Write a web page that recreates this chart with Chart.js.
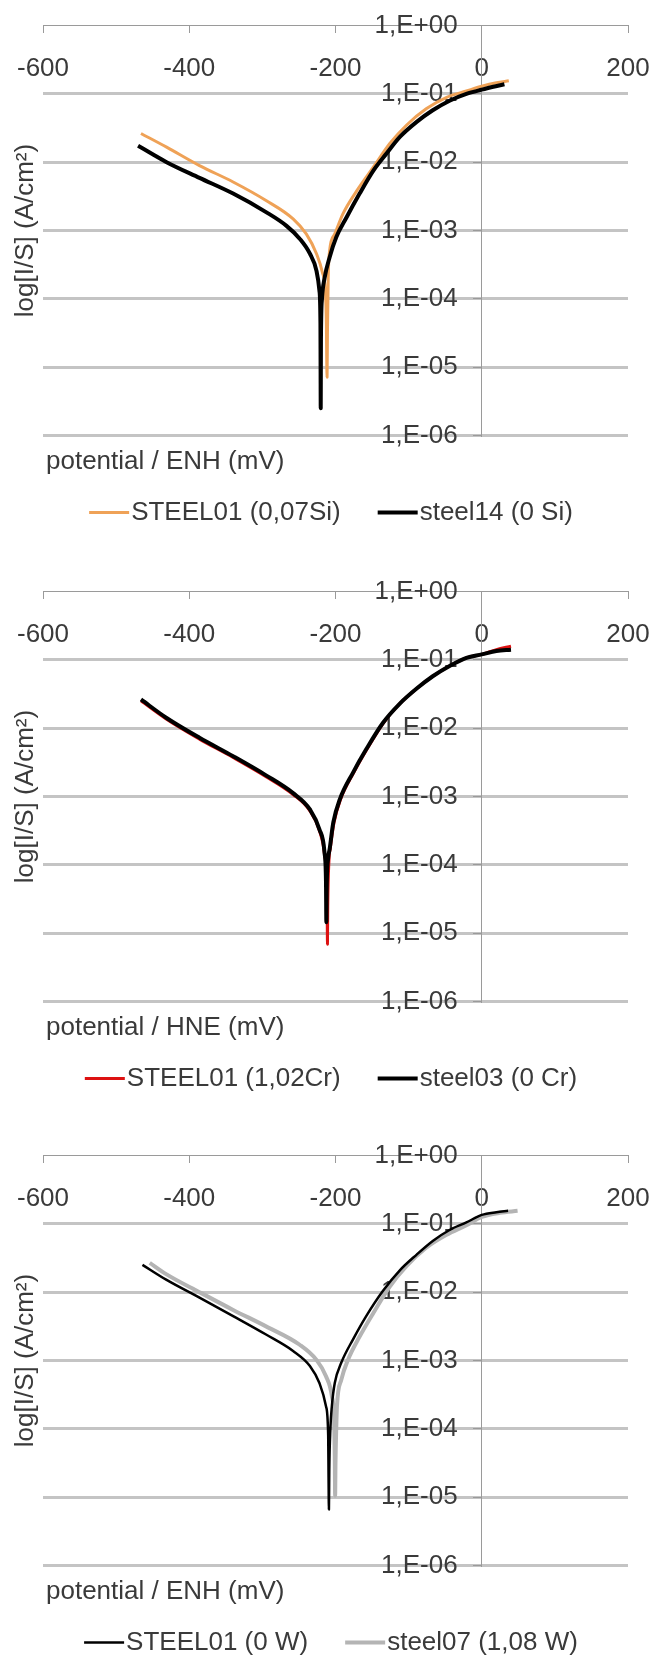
<!DOCTYPE html>
<html><head><meta charset="utf-8">
<script src="https://cdn.jsdelivr.net/npm/chart.js@4.4.1/dist/chart.umd.min.js"></script>
<style>
html,body{margin:0;padding:0;background:#fff;width:652px;height:1660px;overflow:hidden;position:relative;}
canvas{position:absolute;left:0;}
</style></head><body>
<canvas id="c1" width="652" height="566" style="top:0px"></canvas>
<canvas id="c2" width="652" height="566" style="top:566px"></canvas>
<canvas id="c3" width="652" height="566" style="top:1130px"></canvas>
<script>
// ---- tick labels / titles ----
const xTickValues = [-600, -400, -200, 0, 200];
const xTickLabels = ['-600', '-400', '-200', '0', '200'];
const yTickValues = [1e-6, 1e-5, 1e-4, 1e-3, 1e-2, 1e-1, 1];
const yTickLabels = ['1,E-06', '1,E-05', '1,E-04', '1,E-03', '1,E-02', '1,E-01', '1,E+00'];
const yTitle = 'log[I/S] (A/cm²)';
const xTitles = ['potential / ENH (mV)', 'potential / HNE (mV)', 'potential / ENH (mV)'];

// ---- chart 1 : Si ----
const names1 = ['STEEL01 (0,07Si)', 'steel14 (0 Si)'];
const pot1a = [-466,-431,-386,-340,-295,-258,-240,-226,-218,-214,-212.5,-212,-211.5,-211,-210,-208,-201,-190,-171,-148,-126,-103,-76,-48,-21,0,20,37];
const cur1a = [2.63e-2,1.66e-2,8.91e-3,5.13e-3,2.75e-3,1.48e-3,8.91e-4,4.57e-4,2.45e-4,1.32e-4,4.4e-5,1.26e-5,7.1e-6,3.2e-5,2.0e-4,5.13e-4,8.91e-4,1.74e-3,3.80e-3,8.51e-3,1.86e-2,3.47e-2,6.03e-2,8.91e-2,1.10e-1,1.29e-1,1.45e-1,1.55e-1];
const pot1b = [-470,-431,-386,-340,-295,-267,-249,-235,-226,-222,-220.6,-220.4,-220.2,-219.9,-218.5,-215,-208,-199,-185,-167,-148,-130,-112,-89,-67,-44,-21,0,31];
const cur1b = [1.74e-2,1.0e-2,5.89e-3,3.47e-3,1.86e-3,1.17e-3,7.59e-4,4.57e-4,2.57e-4,1.32e-4,4.4e-5,1.0e-5,2.5e-6,2.5e-5,1.0e-4,2.0e-4,4.07e-4,7.94e-4,1.55e-3,3.47e-3,7.59e-3,1.35e-2,2.34e-2,3.89e-2,5.75e-2,7.94e-2,1.0e-1,1.15e-1,1.38e-1];

// ---- chart 2 : Cr ----
const names2 = ['STEEL01 (1,02Cr)', 'steel03 (0 Cr)'];
const pot2a = [-466,-431,-386,-340,-295,-258,-235,-222,-215,-212,-211.3,-211,-210.6,-209,-207,-202,-193,-175,-157,-135,-112,-89,-67,-44,-21,0,20,40];
const cur2a = [2.51e-2,1.35e-2,6.92e-3,3.72e-3,1.95e-3,1.07e-3,6.17e-4,3.16e-4,1.41e-4,5.0e-5,1.6e-5,6.9e-6,2.5e-5,1.12e-4,1.78e-4,4.17e-4,9.12e-4,2.24e-3,4.90e-3,1.17e-2,2.29e-2,3.80e-2,5.75e-2,8.13e-2,1.07e-1,1.20e-1,1.41e-1,1.58e-1];
const pot2b = [-466,-431,-386,-340,-295,-258,-235,-222,-215,-213,-212.5,-212,-210,-208,-203,-194,-176,-158,-135,-112,-89,-67,-44,-21,0,20,40];
const cur2b = [2.63e-2,1.41e-2,7.24e-3,3.89e-3,2.04e-3,1.12e-3,6.46e-4,3.31e-4,1.51e-4,5.5e-5,1.45e-5,5.0e-5,1.26e-4,1.70e-4,4.17e-4,9.12e-4,2.24e-3,4.90e-3,1.20e-2,2.29e-2,3.80e-2,5.75e-2,8.13e-2,1.07e-1,1.20e-1,1.35e-1,1.41e-1];

// ---- chart 3 : W ----
const names3 = ['STEEL01 (0 W)', 'steel07 (1,08 W)'];
const pot3a = [-464,-431,-386,-340,-295,-258,-235,-222,-213,-210,-209.5,-209,-208.5,-207,-205,-201,-192,-176,-158,-135,-112,-89,-67,-44,-21,0,20,36];
const cur3a = [2.51e-2,1.51e-2,8.32e-3,4.47e-3,2.40e-3,1.38e-3,8.32e-4,4.68e-4,2.14e-4,7.9e-5,2.0e-5,6.6e-6,2.5e-5,1.0e-4,2.14e-4,4.68e-4,9.33e-4,2.04e-3,4.47e-3,1.05e-2,2.09e-2,3.55e-2,5.62e-2,8.13e-2,1.05e-1,1.35e-1,1.48e-1,1.55e-1];
const pot3b = [-454,-431,-386,-340,-295,-249,-226,-213,-205,-202,-201,-200.5,-200,-199,-198,-192,-183,-167,-148,-126,-103,-76,-48,-21,0,25,49];
const cur3b = [2.69e-2,1.82e-2,1.0e-2,5.50e-3,3.16e-3,1.70e-3,1.02e-3,5.89e-4,3.02e-4,1.38e-4,4.0e-5,1.05e-5,3.2e-5,1.0e-4,2.14e-4,5.25e-4,1.02e-3,2.24e-3,5.01e-3,1.20e-2,2.40e-2,4.47e-2,6.92e-2,9.55e-2,1.26e-1,1.45e-1,1.55e-1];

// ---- styling / layout ----
const FAMILY = "'Liberation Sans', Arial, sans-serif";
const TEXT = '#3a3a3a';
const AXIS = '#9a9a9a';
const GRID = '#c4c4c4';
const AREA = { left: 43, right: 628, top: 25.5, bottom: 435.5 };
const yLabelAnchor = -33; // potential at which y tick labels are right-aligned

const decor = {
  id: 'decor',
  afterDraw(chart, args, opts) {
    const ctx = chart.ctx, a = chart.chartArea;
    ctx.save();
    ctx.fillStyle = TEXT;
    ctx.font = '26px ' + FAMILY;
    ctx.save();
    ctx.translate(26, (a.top + a.bottom) / 2);
    ctx.rotate(-Math.PI / 2);
    ctx.textAlign = 'center'; ctx.textBaseline = 'middle';
    ctx.fillText(opts.yTitle, 0, 0);
    ctx.restore();
    ctx.textAlign = 'left'; ctx.textBaseline = 'middle';
    ctx.fillText(opts.xTitle, 46, a.bottom + 26);
    const items = chart.data.datasets.map(d => ({ text: d.label, color: d.borderColor, w: d.borderWidth }));
    const lineLen = 40, gap = 2, spacing = 37;
    let total = 0;
    items.forEach((it, i) => { it.tw = ctx.measureText(it.text).width; total += lineLen + gap + it.tw + (i ? spacing : 0); });
    let x = 331 - total / 2;
    const y = a.top + 487;
    items.forEach((it, i) => {
      if (i) x += spacing;
      ctx.strokeStyle = it.color; ctx.lineWidth = it.w;
      ctx.beginPath(); ctx.moveTo(x, y); ctx.lineTo(x + lineLen, y); ctx.stroke();
      x += lineLen + gap;
      ctx.fillText(it.text, x, y);
      x += it.tw;
    });
    ctx.restore();
  }
};

const zeroPad = sc => { sc.paddingLeft = 0; sc.paddingRight = 0; sc.paddingTop = 0; sc.paddingBottom = 0; };
const setYTicks = sc => { sc.ticks = yTickValues.map(v => ({ value: v })); };
const yLabel = v => yTickLabels[yTickValues.indexOf(v)];

function makeChart(id, sets, xTitle) {
  const ch = new Chart(document.getElementById(id), {
    type: 'scatter',
    data: {
      datasets: sets.map(s => ({
        label: s.label,
        data: s.x.map((v, i) => ({ x: v, y: s.y[i] })),
        borderColor: s.color, backgroundColor: s.color, borderWidth: s.width,
        showLine: true, pointRadius: 0, cubicInterpolationMode: 'monotone', order: s.order,
        borderJoinStyle: 'round'
      }))
    },
    options: {
      responsive: false, animation: false, devicePixelRatio: 1,
      layout: { padding: { left: AREA.left, right: 652 - AREA.right, top: AREA.top, bottom: 566 - AREA.bottom } },
      plugins: { legend: { display: false }, tooltip: { enabled: false }, decor: { xTitle: xTitle, yTitle: yTitle } },
      scales: {
        x: {
          type: 'linear', min: -600, max: 200, position: { y: 1 },
          afterBuildTicks: sc => { sc.ticks = xTickValues.map(v => ({ value: v })); },
          afterFit: zeroPad,
          ticks: { callback: v => xTickLabels[xTickValues.indexOf(v)], font: { family: FAMILY, size: 26 }, color: TEXT, padding: 21, autoSkip: false, maxRotation: 0 },
          grid: { drawOnChartArea: false, drawTicks: true, tickLength: 7, tickColor: AXIS, tickWidth: 1 },
          border: { display: true, color: AXIS, width: 1 }
        },
        y: {
          type: 'logarithmic', min: 1e-6, max: 1, position: { x: 0 },
          afterBuildTicks: setYTicks, afterFit: zeroPad,
          ticks: { display: false, callback: yLabel },
          grid: { color: c => (c.tick && c.tick.value === 1) ? 'rgba(0,0,0,0)' : GRID, lineWidth: 3, drawTicks: true, tickLength: 8, tickColor: AXIS, tickWidth: 1 },
          border: { display: true, color: AXIS, width: 1 }
        },
        yLab: {
          type: 'logarithmic', min: 1e-6, max: 1, position: { x: yLabelAnchor }, axis: 'y',
          afterBuildTicks: setYTicks, afterFit: zeroPad,
          ticks: { callback: yLabel, font: { family: FAMILY, size: 26 }, color: TEXT, autoSkip: false },
          grid: { display: false, drawTicks: false },
          border: { display: false }
        }
      }
    },
    plugins: [decor]
  });
  for (let k = 0; k < 3; k++) {
    const a = ch.chartArea, p = ch.options.layout.padding;
    p.left += AREA.left - a.left; p.top += AREA.top - a.top;
    p.right += a.right - AREA.right; p.bottom += a.bottom - AREA.bottom;
    ch.update('none');
  }
  return ch;
}

makeChart('c1', [
  { label: names1[0], x: pot1a, y: cur1a, color: '#EFA257', width: 3, order: 1 },
  { label: names1[1], x: pot1b, y: cur1b, color: '#000000', width: 4, order: 0 }
], xTitles[0]);
makeChart('c2', [
  { label: names2[0], x: pot2a, y: cur2a, color: '#DD1111', width: 3, order: 1 },
  { label: names2[1], x: pot2b, y: cur2b, color: '#000000', width: 4, order: 0 }
], xTitles[1]);
makeChart('c3', [
  { label: names3[0], x: pot3a, y: cur3a, color: '#000000', width: 2.5, order: 0 },
  { label: names3[1], x: pot3b, y: cur3b, color: '#B4B4B4', width: 4, order: 1 }
], xTitles[2]);
</script>
</body></html>
